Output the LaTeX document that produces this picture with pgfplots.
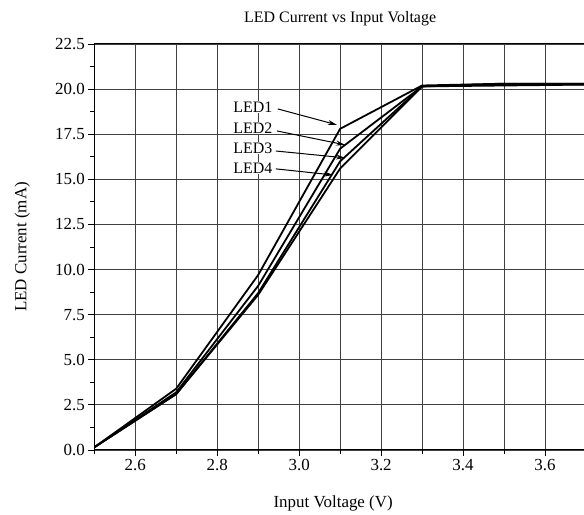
\documentclass[border=0pt]{standalone}
\usepackage{fontspec}
\setmainfont{Liberation Serif}
\usepackage{pgfplots}
\pgfplotsset{compat=1.18}
\usetikzlibrary{arrows.meta}
\pgfplotstableread{
x     a
2.5   0.15
2.7   3.40
2.9   9.70
3.1   17.80
3.3   20.20
3.5   20.30
3.7   20.30
}\ledone
\pgfplotstableread{
x     a
2.5   0.15
2.7   3.20
2.9   9.10
3.1   16.70
3.3   20.15
3.5   20.25
3.7   20.25
}\ledtwo
\pgfplotstableread{
x     a
2.5   0.15
2.7   3.10
2.9   8.70
3.1   16.00
3.3   20.15
3.5   20.30
3.7   20.30
}\ledthree
\pgfplotstableread{
x     a
2.5   0.15
2.7   3.10
2.9   8.60
3.1   15.60
3.3   20.15
3.5   20.20
3.7   20.25
}\ledfour
\begin{document}
\begin{tikzpicture}[x=1bp,y=1bp]
\clip (-94.3,-65) rectangle (489.7,450);
\begin{axis}[
  at={(0,0)}, anchor=south west,
  scale only axis, width=491.7bp, height=406bp,
  xmin=2.5, xmax=3.7, ymin=0, ymax=22.5,
  xtick={2.6,2.8,3.0,3.2,3.4,3.6},
  minor xtick={2.5,2.7,2.9,3.1,3.3,3.5,3.7},
  ytick={0,2.5,5,7.5,10,12.5,15,17.5,20,22.5},
  minor ytick={1.25,3.75,6.25,8.75,11.25,13.75,16.25,18.75,21.25},
  xmajorgrids, xminorgrids, ymajorgrids,
  major grid style={black!75, line width=0.8bp},
  minor grid style={black!75, line width=0.8bp},
  tick align=outside, tick pos=left,
  major tick length=6bp, minor tick length=4bp,
  tick style={black, line width=0.8bp},
  axis line style={black, line width=1bp},
  /pgf/number format/assume math mode=true,
  /pgf/number format/.cd, fixed, fixed zerofill, precision=1, /pgfplots/.cd,
  ticklabel style={font=\fontsize{17}{20}\selectfont},
  title={LED Current vs Input Voltage},
  title style={font=\fontsize{16}{19}\selectfont, at={([yshift=19bp]axis description cs:0.5,1)}, anchor=center},
  xlabel={Input Voltage (V)},
  xlabel style={font=\fontsize{17}{20}\selectfont, at={([xshift=-7bp,yshift=-53bp]axis description cs:0.5,0)}, anchor=center},
  ylabel={LED Current (mA)},
  ylabel style={font=\fontsize{17}{20}\selectfont, at={([xshift=-72bp]axis description cs:0,0.5)}, anchor=center},
  cycle list={{black, line width=1.8bp}},
]
\addplot[black, line width=1.8bp, no markers] table[x=x,y=a] {\ledone};
\addplot[black, line width=1.8bp, no markers] table[x=x,y=a] {\ledtwo};
\addplot[black, line width=1.8bp, no markers] table[x=x,y=a] {\ledthree};
\addplot[black, line width=1.8bp, no markers] table[x=x,y=a] {\ledfour};
\begin{scope}[every node/.style={font=\fontsize{16}{19}\selectfont, fill=white, inner sep=1bp}]
\node at (axis cs:2.887,19.01) {LED1};
\node at (axis cs:2.887,17.85) {LED2};
\node at (axis cs:2.887,16.74) {LED3};
\node at (axis cs:2.887,15.63) {LED4};
\end{scope}
\begin{scope}[line width=1bp, -{Stealth[length=9bp,width=5bp]}]
\draw (axis cs:2.948,18.90) -- (axis cs:3.092,18.02);
\draw (axis cs:2.946,17.68) -- (axis cs:3.112,16.91);
\draw (axis cs:2.943,16.57) -- (axis cs:3.112,16.19);
\draw (axis cs:2.943,15.58) -- (axis cs:3.083,15.24);
\end{scope}
\end{axis}
\end{tikzpicture}
\end{document}
